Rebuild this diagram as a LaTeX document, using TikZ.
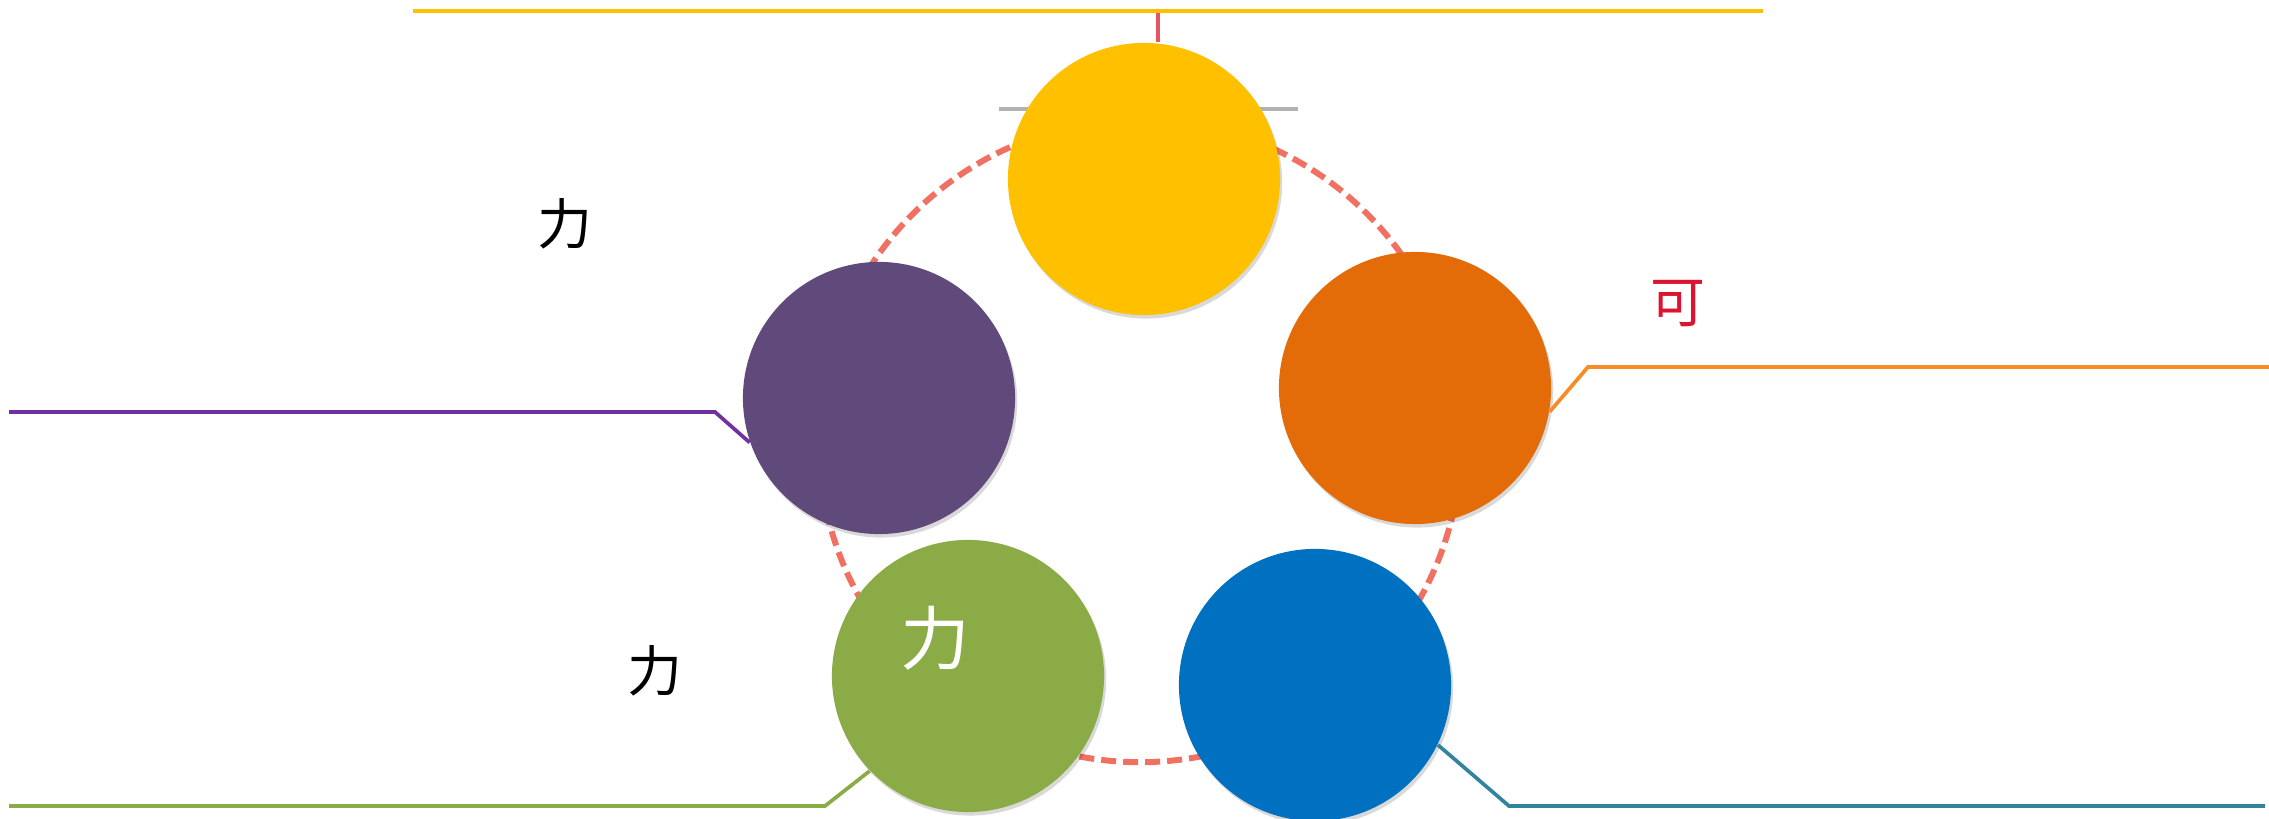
\documentclass[tikz,border=0pt]{standalone}
\usepackage{fontspec}
\newfontfamily\cjk{Noto Sans CJK SC}
\usepackage{xcolor}
\usetikzlibrary{positioning,shadows}

\definecolor{sunyellow}{HTML}{FFC000}
\definecolor{plum}{HTML}{604A7B}
\definecolor{plumline}{HTML}{7030A0}
\definecolor{rust}{HTML}{E36C09}
\definecolor{rustline}{HTML}{F68B27}
\definecolor{leaf}{HTML}{8BAB46}
\definecolor{ocean}{HTML}{0070C0}
\definecolor{teal}{HTML}{31849B}
\definecolor{salmon}{HTML}{F07062}
\definecolor{redpin}{HTML}{E85562}
\definecolor{crimson}{HTML}{DC1432}

\begin{document}
\begin{tikzpicture}[x=0.01cm, y=-0.01cm,
    ball/.style={circle, minimum size=2.72cm, inner sep=0pt,
        drop shadow={shadow xshift=0.6pt, shadow yshift=-1pt, opacity=0.15, fill=black}},
    link/.style={line width=1.05pt},
    ring/.style={draw=salmon, line width=1.7pt, dash pattern=on 0.15cm off 0.07cm},
    glyph/.style={font=\cjk\fontsize{15.6}{18}\selectfont, inner sep=0pt}]
    \useasboundingbox (0,0) rectangle (2269,819);

    % Dashed ring behind the circles
    \coordinate (ringc) at (1140,441);
    \draw [ring] (ringc) circle (3.21cm);

    % Grey bar behind the top circle
    \coordinate (gleft) at (999,109);
    \coordinate (gright) at (1298,109);
    \draw [gray!60, line width=1.3pt] (gleft) -- (gright);

    % Circles
    \node [ball, fill=sunyellow] (yellow) at (1144,179) {};
    \node [ball, fill=plum] (purple) at (879,398) {};
    \node [ball, fill=rust] (orange) at (1415,388) {};
    \node [ball, fill=leaf] (green) at (968,676) {};
    \node [ball, fill=ocean] (blue) at (1315,685) {};

    % Top line and pin
    \coordinate (ltop) at (413,11);
    \coordinate (rtop) at (1763,11);
    \coordinate (ytop) at (1158,11);
    \draw [redpin, line width=1.3pt] (ytop) -- (ytop |- yellow.north);
    \draw [sunyellow, line width=1.3pt] (ltop) -- (rtop);

    % Purple leader
    \coordinate (pbend) at (715,412);
    \coordinate (pend) at (9,412);
    \draw [plumline, link] (purple.199) -- (pbend) -- (pend);

    % Orange leader
    \coordinate (obend) at (1588,367);
    \coordinate (oend) at (2269,367);
    \draw [rustline, link] (orange.-10) -- (obend) -- (oend);

    % Green leader
    \coordinate (lbend) at (825,806);
    \coordinate (lend) at (9,806);
    \draw [leaf, link] (green.224) -- (lbend) -- (lend);

    % Blue leader
    \coordinate (bbend) at (1509,806);
    \coordinate (bend) at (2265,806);
    \draw [teal, link] (blue.-26) -- (bbend) -- (bend);

    % Labels
    \node [glyph] (upper) at (565,224) {力};
    \node [glyph] (lower) at (655,671) {力};
    \node [glyph, text=crimson] (maybe) at (1678,304) {可};
    \node [glyph, text=white, font=\cjk\fontsize{19.8}{22}\selectfont] (inner) at (935,638) {力};
\end{tikzpicture}
\end{document}
